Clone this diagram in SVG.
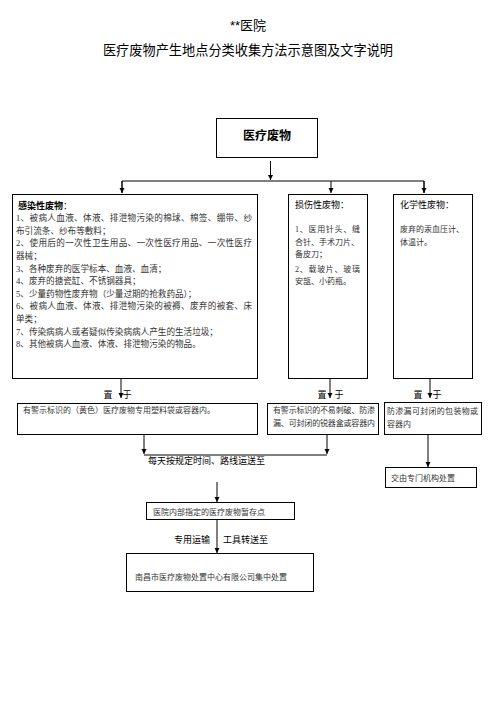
<svg xmlns="http://www.w3.org/2000/svg" width="496" height="702" viewBox="0 0 496 702">
<style>
.box{fill:#fff;stroke:#000;stroke-width:1}
.ln{fill:none;stroke:#000;stroke-width:1}
.sans{font-family:"Liberation Sans","Noto Sans CJK SC",sans-serif;fill:#000}
.body{font-family:"Liberation Serif","Noto Sans CJK SC",serif;fill:#333;font-size:8px}
.b1{font-size:8.6px}
.hd{font-family:"Liberation Sans","Noto Sans CJK SC",sans-serif;fill:#000;font-size:9px}
</style>
<defs>
<marker id="ah" markerWidth="6" markerHeight="6" refX="5" refY="3" orient="auto" markerUnits="userSpaceOnUse">
<path d="M0,0.5 L5,3 L0,5.5 Z" fill="#000"/>
</marker>
</defs>
<rect x="0" y="0" width="496" height="702" fill="#fff"/>
<g id="title">
<text class="sans" x="248" y="30" font-size="13" text-anchor="middle">**医院</text>
<text class="sans" x="248" y="55" font-size="13.2" text-anchor="middle">医疗废物产生地点分类收集方法示意图及文字说明</text>
</g>
<g id="connectors">
<line class="ln" x1="270.5" y1="161" x2="270.5" y2="180" marker-end="url(#ah)"/>
<polyline class="ln" points="122,193 122,181 424,181 424,193"/>
<line class="ln" x1="122" y1="181" x2="122" y2="193" marker-end="url(#ah)"/>
<line class="ln" x1="331" y1="181" x2="331" y2="193" marker-end="url(#ah)"/>
<line class="ln" x1="424" y1="181" x2="424" y2="193" marker-end="url(#ah)"/>
<line class="ln" x1="121" y1="378" x2="121" y2="398" marker-end="url(#ah)"/>
<line class="ln" x1="330" y1="378" x2="330" y2="398" marker-end="url(#ah)"/>
<line class="ln" x1="430" y1="378" x2="430" y2="398" marker-end="url(#ah)"/>
<line class="ln" x1="144" y1="434" x2="144" y2="454" marker-end="url(#ah)"/>
<line class="ln" x1="327" y1="434" x2="327" y2="454" marker-end="url(#ah)"/>
<line class="ln" x1="144" y1="455" x2="327" y2="455"/>
<line class="ln" x1="428" y1="434" x2="428" y2="467" marker-end="url(#ah)"/>
<line class="ln" x1="217" y1="482" x2="217" y2="502" marker-end="url(#ah)"/>
<line class="ln" x1="217" y1="519" x2="217" y2="553" marker-end="url(#ah)"/>
<text class="hd" x="108" y="398" text-anchor="middle">置</text>
<text class="hd" x="127" y="398" text-anchor="middle">于</text>
<text class="hd" x="322" y="398" text-anchor="middle">置</text>
<text class="hd" x="339" y="398" text-anchor="middle">于</text>
<text class="hd" x="418" y="398" text-anchor="middle">置</text>
<text class="hd" x="437" y="398" text-anchor="middle">于</text>
<text class="hd" x="148" y="464">每天按规定时间、路线运送至</text>
<text class="hd" x="174" y="543" font-size="8.5">专用运输</text>
<text class="hd" x="223" y="543" font-size="8.5">工具转送至</text>
</g>
<g id="medical-waste">
<rect class="box" x="216.5" y="118.5" width="101" height="39"/>
<text class="sans" x="267" y="139.5" font-size="12" font-weight="bold" text-anchor="middle">医疗废物</text>
</g>
<g id="infectious">
<rect class="box" x="12.5" y="194.5" width="245" height="184"/>
<text class="hd" x="18" y="208.8" font-size="9.3" font-weight="bold">感染性废物<tspan font-weight="normal">：</tspan></text>
<text class="body b1" x="16" y="221.2" textLength="236" lengthAdjust="spacing">1、被病人血液、体液、排泄物污染的棉球、棉签、绷带、纱</text>
<text class="body b1" x="16" y="233.8">布引流条、纱布等敷料；</text>
<text class="body b1" x="16" y="246.4" textLength="236" lengthAdjust="spacing">2、使用后的一次性卫生用品、一次性医疗用品、一次性医疗</text>
<text class="body b1" x="16" y="259">器械；</text>
<text class="body b1" x="16" y="271.6">3、各种废弃的医学标本、血液、血清；</text>
<text class="body b1" x="16" y="284.2">4、废弃的搪瓷缸、不锈钢器具；</text>
<text class="body b1" x="16" y="296.8">5、少量药物性废弃物（少量过期的抢救药品）；</text>
<text class="body b1" x="16" y="309.4" textLength="236" lengthAdjust="spacing">6、被病人血液、体液、排泄物污染的被褥、废弃的被套、床</text>
<text class="body b1" x="16" y="322">单类；</text>
<text class="body b1" x="16" y="334.6">7、传染病病人或者疑似传染病病人产生的生活垃圾；</text>
<text class="body b1" x="16" y="347.2">8、其他被病人血液、体液、排泄物污染的物品。</text>
</g>
<g id="injury">
<rect class="box" x="288.5" y="194.5" width="79" height="184"/>
<text class="hd" x="295" y="207.5">损伤性废物：</text>
<text class="body" x="295" y="232" textLength="65" lengthAdjust="spacing">1、医用针头、缝</text>
<text class="body" x="295" y="245">合针、手术刀片、</text>
<text class="body" x="295" y="256.5">备皮刀；</text>
<text class="body" x="295" y="272" textLength="65" lengthAdjust="spacing">2、载玻片、玻璃</text>
<text class="body" x="295" y="284">安瓿、小药瓶。</text>
</g>
<g id="chemical">
<rect class="box" x="393.5" y="194.5" width="79" height="184"/>
<text class="hd" x="400" y="207.5">化学性废物：</text>
<text class="body" x="400" y="232">废弃的汞血压计、</text>
<text class="body" x="400" y="245">体温计。</text>
</g>
<g id="yellow-bag">
<rect class="box" x="17.5" y="403.5" width="240" height="31"/>
<text class="body" x="23" y="413">有警示标识的（黄色）医疗废物专用塑料袋或容器内。</text>
</g>
<g id="sharps-box">
<rect class="box" x="267.5" y="403.5" width="111" height="31"/>
<text class="body" x="273" y="413" font-size="7.8" textLength="102" lengthAdjust="spacing">有警示标识的不易刺破、防渗</text>
<text class="body" x="273" y="426" font-size="7.8" textLength="102" lengthAdjust="spacing">漏、可封闭的锐器盒或容器内</text>
</g>
<g id="leakproof">
<rect class="box" x="384.5" y="402.5" width="97" height="32"/>
<text class="body" x="387" y="414" textLength="91" lengthAdjust="spacing">防渗漏可封闭的包装物或</text>
<text class="body" x="387" y="427">容器内</text>
</g>
<g id="special-agency">
<rect class="box" x="385.5" y="467.5" width="91" height="20"/>
<text class="body" x="391" y="481" font-size="9">交由专门机构处置</text>
</g>
<g id="storage">
<rect class="box" x="146.5" y="502.5" width="148" height="17"/>
<text class="body" x="153" y="515" font-size="8.8">医院内部指定的医疗废物暂存点</text>
</g>
<g id="disposal-center">
<rect class="box" x="126.5" y="553.5" width="187" height="38"/>
<text class="body" x="135" y="580" font-size="8.5">南昌市医疗废物处置中心有限公司集中处置</text>
</g>
</svg>
